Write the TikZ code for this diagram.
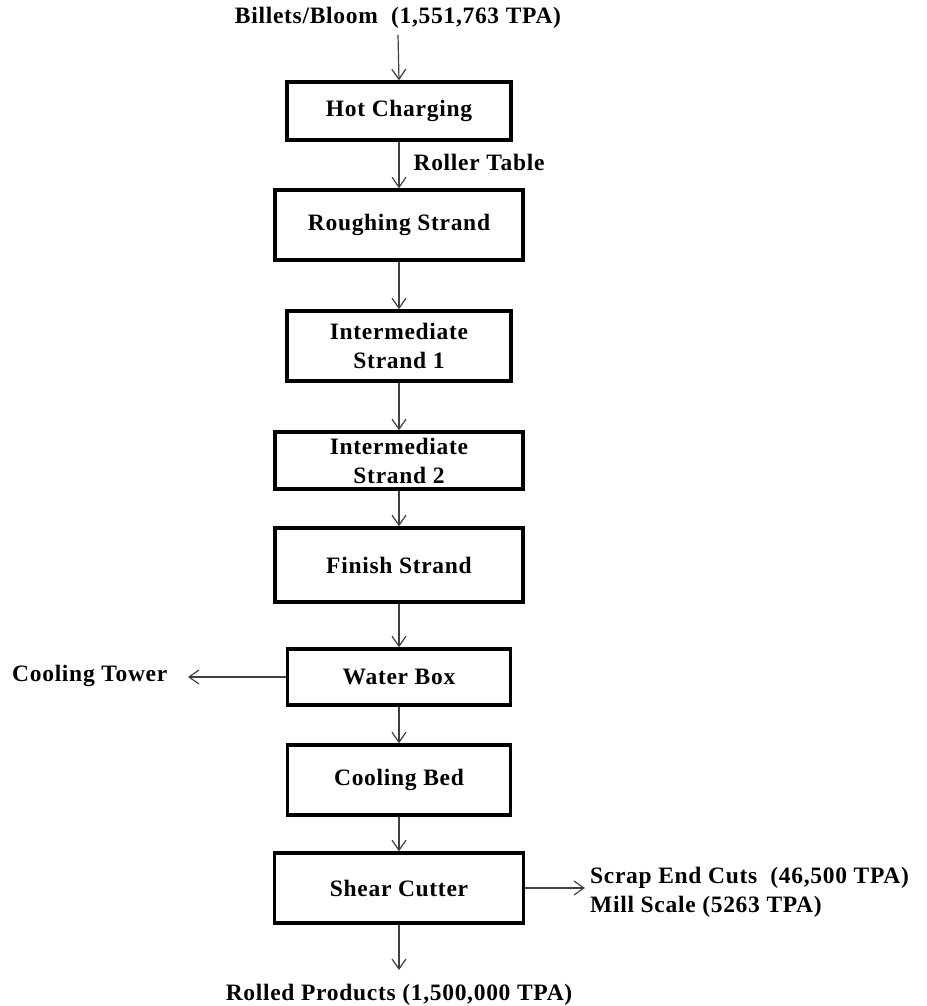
\documentclass[tikz,border=0pt]{standalone}
\usepackage{fontspec}
\setmainfont[LetterSpace=3]{Liberation Serif}
\usetikzlibrary{arrows.meta}
\begin{document}
\begin{tikzpicture}[x=1pt,y=-1pt,
  every node/.style={font=\bfseries\fontsize{23.5}{29}\selectfont, inner sep=0pt},
  procbox/.style={draw=black, line width=3.5pt, rectangle, align=center, fill=white},
  arr/.style={draw=black!75, line width=1.2pt, -{Straight Barb[length=10pt,width=14pt,line width=1.2pt]}}
]
\useasboundingbox (0,0) rectangle (926,1006);
% process boxes
\node[procbox, minimum width=224pt, minimum height=58pt] (hc) at (399,111) {Hot Charging};
\node[procbox, minimum width=248pt, minimum height=70pt] (rs) at (399,225) {Roughing Strand};
\node[procbox, minimum width=224pt, minimum height=70pt] (i1) at (399,346) {Intermediate\\Strand 1};
\node[procbox, minimum width=248pt, minimum height=57pt] (i2) at (399,460.5) {Intermediate\\Strand 2};
\node[procbox, minimum width=248pt, minimum height=74pt] (fs) at (399,565) {Finish Strand};
\node[procbox, minimum width=223pt, minimum height=56pt] (wb) at (399,677) {Water Box};
\node[procbox, minimum width=223pt, minimum height=70pt] (cb) at (399,780) {Cooling Bed};
\node[procbox, minimum width=249pt, minimum height=70pt] (sc) at (399,888) {Shear Cutter};
% texts
\node[inner ysep=6pt] (bill) at (398,18) {Billets/Bloom\ \ (1,551,763 TPA)};
\node[anchor=west, inner xsep=0pt] (ct) at (12,676) {Cooling Tower};
\node[anchor=west, align=left, inner xsep=0pt] (scrap) at (590,892) {Scrap End Cuts\ \ (46,500 TPA)\\Mill Scale (5263 TPA)};
\node[inner ysep=6pt] (rolled) at (399,995) {Rolled Products (1,500,000 TPA)};
\coordinate (cttip) at (188,677);
\coordinate (scraptip) at (585,888);
\coordinate (rolledtip) at (399,970);
% connectors
\draw[arr] (bill.south) -- (hc.north);
\draw[arr] (hc.south) -- node[anchor=west, xshift=14pt, yshift=3pt] (rt) {Roller Table} (rs.north);
\draw[arr] (rs.south) -- (i1.north);
\draw[arr] (i1.south) -- (i2.north);
\draw[arr] (i2.south) -- (fs.north);
\draw[arr] (fs.south) -- (wb.north);
\draw[arr] (wb.south) -- (cb.north);
\draw[arr] (cb.south) -- (sc.north);
\draw[arr] (wb.west) -- (cttip);
\draw[arr] (sc.east) -- (scraptip);
\draw[arr] (sc.south) -- (rolledtip);
\end{tikzpicture}
\end{document}
